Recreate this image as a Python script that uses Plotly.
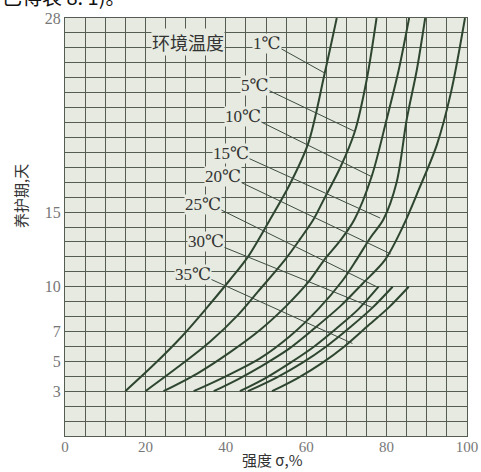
import plotly.graph_objects as go

# ---- data (strength %, curing days) ----
temps = ["1℃", "5℃", "10℃", "15℃", "20℃", "25℃", "30℃", "35℃"]

s_1 = [15, 22, 29, 35, 41, 45.5, 51, 56, 60.5, 64.6, 67.6]
d_1 = [3, 4.75, 6.65, 8.5, 10.45, 12, 14.5, 16.9, 19.6, 24.3, 28]

s_5 = [20, 28, 36, 43, 48, 54.7, 58.5, 61.8, 64.3, 68.5, 72.1, 75, 77.5]
d_5 = [3, 4.6, 6.3, 8.1, 9.67, 11.8, 13.2, 14.5, 15.8, 18, 20.4, 23.8, 28]

s_10 = [24.5, 33, 41, 48.5, 55, 60.5, 64.5, 68.5, 72, 76.3, 80, 83, 85.6]
d_10 = [3, 4.2, 5.6, 7.1, 8.7, 10.3, 11.8, 13.1, 14.5, 17.4, 21.2, 24.5, 28]

s_15 = [32, 40, 48.5, 56, 63, 69, 72.5, 76, 79.2, 82.5, 85, 87.5, 89.6]
d_15 = [3, 4, 5.2, 6.7, 8.5, 10.4, 11.8, 13.3, 14.5, 17, 21.2, 24.5, 28]

s_20 = [37, 43, 49, 55.5, 62, 68.5, 74, 79.6, 84, 88, 92.5, 96, 99.5]
d_20 = [3, 3.8, 4.7, 5.8, 7.2, 8.7, 10.2, 11.8, 14, 16.5, 19.5, 23, 28]

s_25 = [43.5, 50, 56, 62, 67.5, 73, 78]
d_25 = [3, 3.9, 4.9, 6, 7.2, 8.5, 10]

s_30 = [45.5, 52.5, 59, 65, 71, 76.5, 81.5]
d_30 = [3, 3.9, 4.9, 6, 7.3, 8.6, 10]

s_35 = [51.5, 58, 64, 69.5, 75, 80.5, 85.5]
d_35 = [3, 3.9, 4.9, 6, 7.3, 8.6, 10]

curves = [(s_1, d_1), (s_5, d_5), (s_10, d_10), (s_15, d_15),
          (s_20, d_20), (s_25, d_25), (s_30, d_30), (s_35, d_35)]

# label anchor (right end) and leader line end on its curve
label_x = [54.0, 51.0, 49.0, 46.0, 44.0, 39.1, 39.8, 36.6]
label_y = [26.3, 23.5, 21.4, 18.95, 17.35, 15.5, 13.0, 10.85]
leader_end_x = [64.7, 72.1, 76.3, 78.4, 81.0, 77.5, 76.5, 71.5]
leader_end_y = [24.3, 20.4, 17.37, 14.6, 12.2, 10.0, 8.6, 6.2]

x_ticks = [0, 20, 40, 60, 80, 100]
y_ticks = [3, 5, 7, 10, 15, 28]

CURVE = "#2e4630"
GRID = "#555d53"
BG = "#e6eae0"
SERIF = "Liberation Serif, DejaVu Serif, Noto Sans CJK SC, serif"

fig = go.Figure()

for (s, d) in curves:
    fig.add_trace(go.Scatter(x=s, y=d, mode="lines",
                             line=dict(color=CURVE, width=2, shape="spline", smoothing=0.9),
                             hoverinfo="skip", showlegend=False))

for i, t in enumerate(temps):
    fig.add_trace(go.Scatter(x=[label_x[i] - 0.3, leader_end_x[i]],
                             y=[label_y[i] - 0.35, leader_end_y[i]],
                             mode="lines", line=dict(color="#3e4c42", width=1),
                             hoverinfo="skip", showlegend=False))
    fig.add_annotation(x=label_x[i], y=label_y[i], text=t, showarrow=False,
                       xanchor="right", yanchor="middle",
                       font=dict(family=SERIF, size=17, color="#333333"),
                       bgcolor=BG, borderpad=0)

fig.add_annotation(x=30.6, y=26.4, text="环境温度", showarrow=False,
                   xanchor="center", yanchor="middle",
                   font=dict(family="Noto Sans CJK SC", size=18, color="#333333"),
                   bgcolor=BG, borderpad=0)

# axis titles placed as annotations (positions as in the reference)
fig.add_annotation(xref="paper", yref="paper", x=0.515, y=-0.057,
                   text="强度 σ,%", showarrow=False, xanchor="center", yanchor="middle",
                   font=dict(family="Noto Sans CJK SC", size=15, color="#333333"))
fig.add_annotation(xref="paper", yref="paper", x=-0.112, y=0.574,
                   text="养护期,天", textangle=-90, showarrow=False,
                   xanchor="center", yanchor="middle",
                   font=dict(family="Noto Sans CJK SC", size=15, color="#333333"))

# cut-off line of text from the scanned page above the chart
fig.add_annotation(xref="paper", yref="paper", x=-0.162, y=1.052,
                   text="已得表 8. 1)。", showarrow=False,
                   xanchor="left", yanchor="middle",
                   font=dict(family="Noto Sans CJK SC", size=20, color="#111111"))

fig.update_layout(
    width=481, height=472,
    margin=dict(l=65, r=14, t=18, b=36, autoexpand=False),
    paper_bgcolor="white",
    plot_bgcolor=BG,
    xaxis=dict(range=[0, 100], tickvals=x_ticks, ticktext=[str(v) for v in x_ticks],
               automargin=False,
               showgrid=True, gridcolor=GRID, gridwidth=1,
               minor=dict(dtick=5, tick0=0, showgrid=True, gridcolor=GRID, gridwidth=1),
               zeroline=False, showline=True, linecolor=GRID, mirror=True,
               ticks="", ticklabelstandoff=-3,
               tickfont=dict(family=SERIF, size=15, color="#777777")),
    yaxis=dict(range=[0, 28], tickvals=y_ticks, ticktext=[str(v) for v in y_ticks],
               automargin=False,
               showgrid=True, gridcolor=GRID, gridwidth=1,
               minor=dict(dtick=1, tick0=0, showgrid=True, gridcolor=GRID, gridwidth=1),
               zeroline=False, showline=True, linecolor=GRID, mirror=True,
               ticks="", tickfont=dict(family=SERIF, size=16, color="#777777")),
)

fig.write_html("out.html", config={"displayModeBar": False},
               post_script="document.body.style.margin='0';document.body.style.overflow='hidden';")
